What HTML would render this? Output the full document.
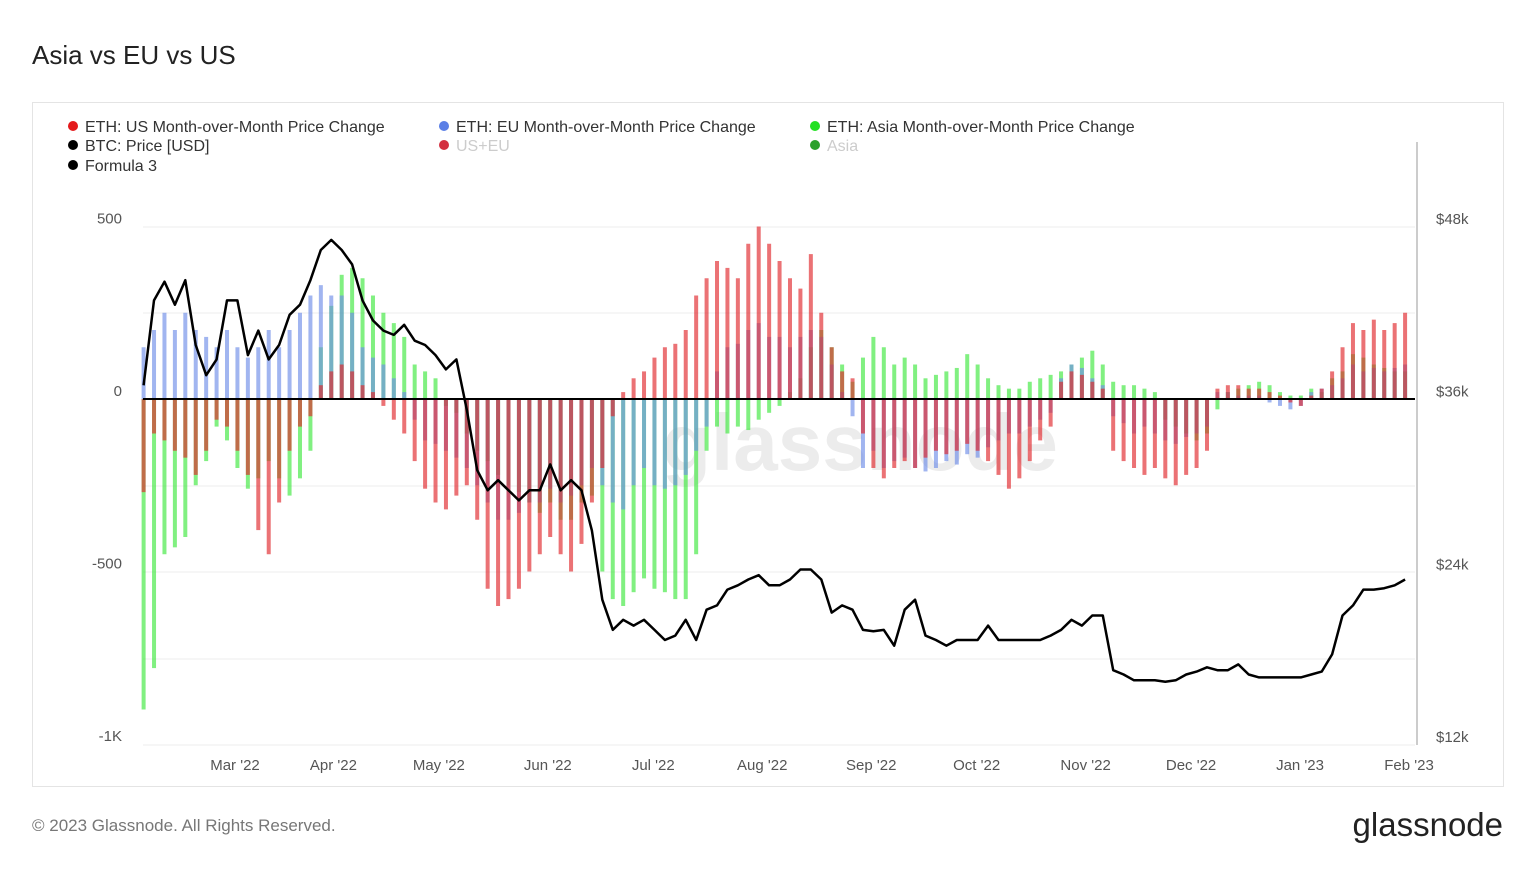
<!DOCTYPE html>
<html><head><meta charset="utf-8"><style>
body{margin:0;width:1536px;height:864px;background:#fff;font-family:"Liberation Sans",sans-serif;overflow:hidden}
</style></head><body>
<svg id="chart" width="1536" height="864" xmlns="http://www.w3.org/2000/svg" font-family="Liberation Sans, sans-serif">
<text x="32" y="64" font-size="26" fill="#222">Asia vs EU vs US</text>
<rect x="32.5" y="102.5" width="1471" height="684" fill="none" stroke="#e4e4e4"/>
<text x="860" y="470" font-size="80" fill="#ececec" text-anchor="middle" font-weight="bold">glassnode</text>
<g id="grid"></g>
<g id="bars"></g>
<line x1="143" x2="1415" y1="399" y2="399" stroke="#000" stroke-width="2"/>
<path id="btc" fill="none" stroke="#000" stroke-width="2.5" stroke-linejoin="round"/>
<line x1="1417" x2="1417" y1="142" y2="745" stroke="#999"/>
<g id="axes" font-size="15" fill="#555"></g>
<g font-size="16">
 <g><circle cx="73" cy="126" r="5" fill="#e41a1c"/><text x="85" y="132" fill="#333">ETH: US Month-over-Month Price Change</text></g>
 <g><circle cx="444" cy="126" r="5" fill="#5b7fe6"/><text x="456" y="132" fill="#333">ETH: EU Month-over-Month Price Change</text></g>
 <g><circle cx="815" cy="126" r="5" fill="#22e022"/><text x="827" y="132" fill="#333">ETH: Asia Month-over-Month Price Change</text></g>
 <g><circle cx="73" cy="145" r="5" fill="#000"/><text x="85" y="151" fill="#333">BTC: Price [USD]</text></g>
 <g><circle cx="444" cy="145" r="5" fill="#d33040"/><text x="456" y="151" fill="#ccc">US+EU</text></g>
 <g><circle cx="815" cy="145" r="5" fill="#2aa02a"/><text x="827" y="151" fill="#ccc">Asia</text></g>
 <g><circle cx="73" cy="165" r="5" fill="#000"/><text x="85" y="171" fill="#333">Formula 3</text></g>
</g>
<text x="32" y="831" font-size="17" fill="#777">© 2023 Glassnode. All Rights Reserved.</text>
<text x="1503" y="836" font-size="33" fill="#222" text-anchor="end">glassnode</text>
</svg>
<script>
const months=["Mar '22","Apr '22","May '22","Jun '22","Jul '22","Aug '22","Sep '22","Oct '22","Nov '22","Dec '22","Jan '23","Feb '23"];
const monthDays=[26,54,84,115,145,176,207,237,268,298,329,360];
const leftTicks=[500,0,-500,-1000];
const leftTickLabels=["500","0","-500","-1K"];
const rightTicks=[48000,36000,24000,12000];
const rightTickLabels=["$48k","$36k","$24k","$12k"];
const stepDays=2.966;
const us=[-270,-100,-120,-150,-170,-220,-150,-60,-80,-150,-220,-380,-450,-300,-150,-80,-50,40,80,100,80,40,20,-20,-60,-100,-180,-260,-300,-320,-280,-250,-350,-550,-600,-580,-550,-500,-450,-400,-450,-500,-420,-300,-200,-50,20,60,80,120,150,160,200,300,350,400,380,350,450,500,450,400,350,320,420,250,150,80,60,-100,-200,-230,-200,-180,-200,-170,-150,-160,-150,-130,-150,-180,-220,-260,-230,-180,-120,-80,50,80,70,50,30,-150,-180,-200,-220,-200,-230,-250,-220,-200,-150,30,40,40,30,30,20,10,-10,-20,10,30,80,150,220,200,230,200,220,250];
const eu=[150,200,250,200,250,200,180,150,200,150,120,150,200,150,200,250,300,330,300,300,250,150,120,100,60,20,-60,-120,-130,-150,-170,-200,-250,-300,-350,-350,-330,-300,-300,-260,-300,-280,-250,-200,-250,-300,-320,-250,-200,-250,-260,-250,-220,-150,-80,80,150,160,200,220,180,180,150,180,200,180,100,20,-50,-200,-150,-200,-180,-170,-200,-210,-200,-180,-190,-160,-170,-140,-120,-100,-100,-80,-60,-40,60,100,90,60,40,-50,-70,-100,-80,-100,-120,-130,-110,-100,-80,20,20,10,10,10,-10,-20,-30,-20,20,30,40,60,100,80,90,80,90,100];
const asia=[-900,-780,-450,-430,-400,-250,-180,-80,-120,-200,-260,-230,-180,-230,-280,-230,-150,150,270,360,380,350,300,250,220,180,100,80,60,-20,-40,-100,-150,-180,-220,-250,-270,-300,-330,-300,-350,-350,-300,-280,-500,-580,-600,-560,-520,-550,-560,-580,-580,-450,-150,-80,-100,-80,-90,-60,-40,-20,20,60,150,200,150,100,50,120,180,150,100,120,100,60,70,80,90,130,100,60,40,30,30,50,60,70,80,100,120,140,100,50,40,40,30,20,-60,-80,-100,-120,-100,-30,20,30,40,50,40,20,10,10,30,20,60,80,130,120,100,90,80,80];
const btc=[37.0,42.9,44.2,42.6,44.3,39.8,37.7,38.8,42.9,42.9,39.1,40.8,38.8,39.8,41.9,42.6,44.3,46.4,47.1,46.4,45.4,42.9,41.5,40.8,40.5,41.2,40.1,39.8,39.1,38.1,38.8,35.3,31.1,29.7,30.4,29.7,29.0,29.7,29.7,31.5,29.7,30.4,29.7,26.9,22.1,20.0,20.7,20.3,20.7,20.0,19.3,19.6,20.7,19.3,21.4,21.7,22.8,23.1,23.5,23.8,23.1,23.1,23.5,24.2,24.2,23.5,21.2,21.7,21.4,20.0,19.9,20.0,18.9,21.4,22.1,19.6,19.3,18.9,19.3,19.3,19.3,20.3,19.3,19.3,19.3,19.3,19.3,19.6,20.0,20.7,20.3,21.0,21.0,17.2,16.9,16.5,16.5,16.5,16.4,16.5,16.9,17.1,17.4,17.2,17.2,17.6,16.9,16.7,16.7,16.7,16.7,16.7,16.9,17.1,18.3,21.0,21.7,22.8,22.8,22.9,23.1,23.5];

const NS="http://www.w3.org/2000/svg";
function xDay(d){return 235+(d-26)*3.515;}
function yL(v){return 399-v*0.345;}
function yR(p){return 745-(p-12000)/36000*518;}
function mk(tag,attrs,parent){const e=document.createElementNS(NS,tag);for(const k in attrs)e.setAttribute(k,attrs[k]);parent.appendChild(e);return e;}
const grid=document.getElementById('grid'),axes=document.getElementById('axes'),bars=document.getElementById('bars');
[227,313,486,572,659,745].forEach(y=>{const l=mk('line',{x1:143,x2:1415,y1:y,y2:y,stroke:'#ececec'},grid);

});
leftTicks.forEach((v,i)=>{const t=mk('text',{x:122,y:yL(v)-3,'text-anchor':'end'},axes);t.textContent=leftTickLabels[i];

});
rightTicks.forEach((v,i)=>{const t=mk('text',{x:1436,y:yR(v)-3},axes);t.textContent=rightTickLabels[i];

});
months.forEach((m,i)=>{const t=mk('text',{x:xDay(monthDays[i]),y:770,'text-anchor':'middle'},axes);t.textContent=m;

});
function drawSeries(arr,color,name){arr.forEach((v,i)=>{const x=xDay(i*stepDays);const y=yL(v);
const r=mk('rect',{x:x-2,y:Math.min(y,399),width:4,height:Math.abs(399-y),fill:color,opacity:0.65},bars);

});}
drawSeries(asia,'#3ee83e','bar-asia');
drawSeries(eu,'#6f8de8','bar-eu');
drawSeries(us,'#e0262b','bar-us');
document.getElementById('btc').setAttribute('d',btc.map((p,i)=>(i?'L':'M')+xDay(i*stepDays).toFixed(1)+','+yR(p*1000).toFixed(1)).join(''));
</script>
</body></html>
